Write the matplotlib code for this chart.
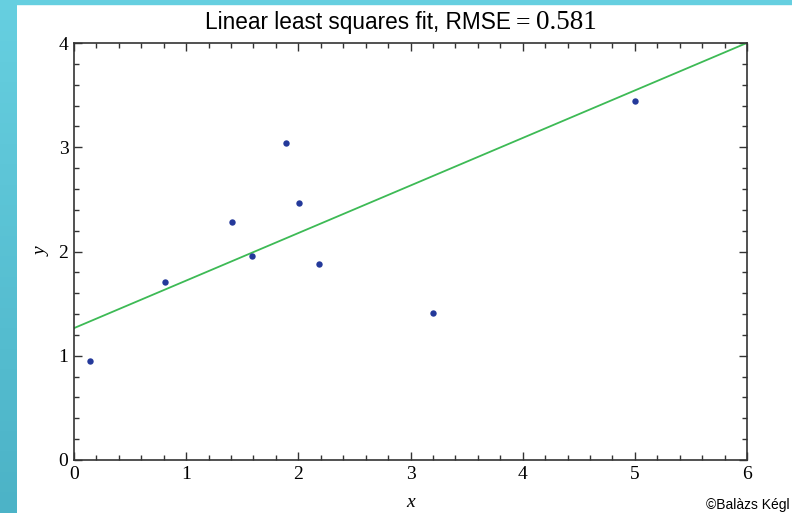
import numpy as np
import matplotlib
matplotlib.use('Agg')
import matplotlib.pyplot as plt
from matplotlib.patches import Rectangle
from matplotlib.ticker import MultipleLocator

# --- data ---
x_pts = [0.14, 0.81, 1.41, 1.59, 1.89, 2.01, 2.18, 3.20, 5.00]
y_pts = [0.95, 1.71, 2.28, 1.96, 3.04, 2.47, 1.88, 1.41, 3.44]
fit_intercept = 1.265
fit_slope = 0.456
rmse = 0.581

x_ticks = [0, 1, 2, 3, 4, 5, 6]
y_ticks = [0, 1, 2, 3, 4]

serif = 'Liberation Serif'
sans = 'Liberation Sans'

fig = plt.figure(figsize=(7.92, 5.13), dpi=100)

# cyan slide frame on the left and on top
edge = fig.add_axes([0, 0, 17 / 792, 1])
edge.imshow(np.linspace(0, 1, 50).reshape(-1, 1), aspect='auto', extent=[0, 1, 0, 1],
            cmap=matplotlib.colors.LinearSegmentedColormap.from_list('c', ['#66cfe0', '#4cb3c7']))
edge.axis('off')
fig.patches.append(Rectangle((0, 1 - 4 / 513), 1, 4 / 513, transform=fig.transFigure,
                             color='#66cfe0', zorder=0))

ax = fig.add_axes([74 / 792, 1 - 460 / 513, 673 / 792, 417 / 513])

xs = np.array([0, 6])
ax.plot(xs, fit_intercept + fit_slope * xs, color='#3dba55', lw=1.3, zorder=2)
ax.plot(x_pts, y_pts, 'o', color='#24399a', ms=4.6, mec='none', zorder=3)

ax.set_xlim(0, 6)
ax.set_ylim(0, 4)
ax.set_xticks(x_ticks)
ax.set_yticks(y_ticks)
ax.xaxis.set_minor_locator(MultipleLocator(0.2))
ax.yaxis.set_minor_locator(MultipleLocator(0.2))
ax.tick_params(which='both', direction='in', top=True, right=True, color='#333333', width=1)
ax.tick_params(which='major', length=5.5, pad=4)
ax.tick_params(which='minor', length=3.5)
for lab in ax.get_xticklabels() + ax.get_yticklabels():
    lab.set_fontfamily(serif)
    lab.set_fontsize(14)
for s in ax.spines.values():
    s.set_color('#333333')
    s.set_linewidth(1.2)

ax.set_xlabel('x', fontfamily=serif, fontstyle='italic', fontsize=14, labelpad=8)
ax.set_ylabel('y', fontfamily=serif, fontstyle='italic', fontsize=14, labelpad=6)

# title: sans text, serif "=" and number
base = 1 - 29 / 513
fig.text(511 / 792, base, 'Linear least squares fit, RMSE', fontfamily=sans,
         fontsize=16.3, ha='right', va='baseline')
fig.text(516 / 792, base, '=', fontfamily=serif, fontsize=18.5, ha='left', va='baseline')
fig.text(536 / 792, base, f'{rmse:.3f}', fontfamily=serif, fontsize=19.5,
         ha='left', va='baseline')

fig.text(706 / 792, 1 - 509 / 513, '\u00a9Bal\u00e0zs K\u00e9gl', fontfamily=sans,
         fontsize=10, ha='left', va='baseline')

fig.savefig('out.png', dpi=100)
